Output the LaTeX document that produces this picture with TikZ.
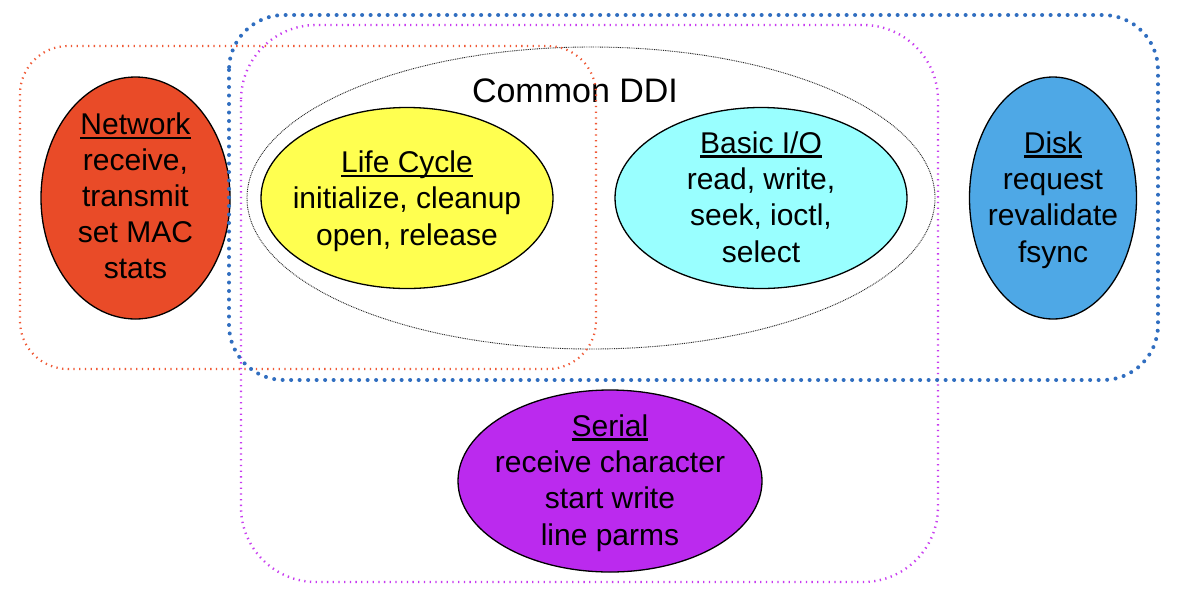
\documentclass[tikz,border=0pt]{standalone}
\usepackage{fontspec}
\setmainfont{Liberation Sans}
\usetikzlibrary{shapes.geometric}
\definecolor{netred}{RGB}{233,75,40}
\definecolor{lcyellow}{RGB}{255,255,80}
\definecolor{iocyan}{RGB}{153,255,255}
\definecolor{diskblue}{RGB}{78,168,230}
\definecolor{serpurple}{RGB}{187,42,238}
\definecolor{dotorange}{RGB}{240,90,55}
\definecolor{dotblue}{RGB}{48,110,192}
\definecolor{dotmagenta}{RGB}{200,60,240}
\newcommand\ulx[1]{\setbox0\hbox{#1}\rlap{\rule[-4.5pt]{\wd0}{2.2pt}}\box0}
\tikzset{
  api/.style={ellipse, draw=black, line width=1.3pt, inner sep=0pt},
  apitext/.style={align=center, anchor=base, inner sep=0pt,
    font=\fontsize{30}{36.3}\selectfont},
  orangegroup/.style={draw=dotorange, line width=2.2pt, dash pattern=on 1.3pt off 4.4pt, rounded corners=48pt},
  bluegroup/.style={draw=dotblue, line width=4pt, line cap=round, dash pattern=on 0pt off 8.5pt, rounded corners=55pt},
  magentagroup/.style={draw=dotmagenta, line width=2.4pt, dash pattern=on 1.3pt off 4.4pt, rounded corners=75pt},
  commongroup/.style={draw=black!85, line width=0.9pt, dash pattern=on 0.9pt off 0.9pt},
}
\begin{document}
\begin{tikzpicture}[x=1pt,y=-1pt]
\useasboundingbox[fill=white] (0,0) rectangle (1180,606);
% group outlines
\draw[commongroup] (591,198) ellipse [x radius=344, y radius=151];
\node[font=\fontsize{34}{36}\selectfont, anchor=base] (common) at (575,102) {Common DDI};
% API ellipses (base anchor = baseline of the last line)
\node[api, fill=netred, minimum width=189pt, minimum height=242pt] (net) at (135.5,198) {};
\node[apitext, font=\fontsize{30}{35.8}\selectfont] (nettext) at (135.5,278) {\ulx{Network}\\receive,\\transmit\\set MAC\\stats};
\node[api, fill=lcyellow, minimum width=292pt, minimum height=181pt] (life) at (407,198) {};
\node[apitext] (lifetext) at (407,245) {\ulx{Life Cycle}\\initialize, cleanup\\open, release};
\node[api, fill=iocyan, minimum width=292pt, minimum height=181pt] (basic) at (761,198) {};
\node[apitext] (basictext) at (761,262) {\ulx{Basic I/O}\\read, write,\\seek, ioctl,\\select};
\node[api, fill=diskblue, minimum width=167pt, minimum height=242pt] (disk) at (1053,198) {};
\node[apitext] (disktext) at (1053,262) {\ulx{Disk}\\request\\revalidate\\fsync};
\node[api, fill=serpurple, minimum width=304pt, minimum height=182pt] (serial) at (610,481) {};
\node[apitext] (serialtext) at (610,545) {\ulx{Serial}\\receive character\\start write\\line parms};
% dotted groups
\draw[orangegroup] (20,46) rectangle (596,369);
\draw[magentagroup] (241,25) rectangle (938,582);
\draw[bluegroup] (229,15) rectangle (1158,380);
\end{tikzpicture}
\end{document}
